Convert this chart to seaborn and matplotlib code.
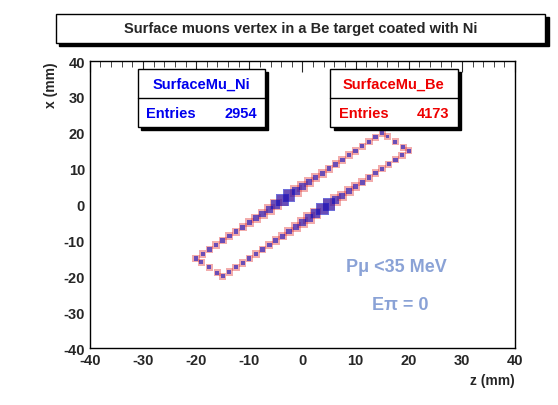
import numpy as np
import pandas as pd
import matplotlib
matplotlib.use("Agg")
import matplotlib.pyplot as plt
import seaborn as sns
from matplotlib.ticker import MultipleLocator
from matplotlib.patches import Rectangle

sns.set_style("white")
plt.rcParams['font.family'] = ['Liberation Sans', 'DejaVu Sans']
plt.rcParams['font.weight'] = 'bold'
plt.rcParams['axes.unicode_minus'] = False

# bin positions along the two long sides (z coordinate), slope-1 lines
z_line1 = [-20 + 1.25 * k for k in range(29)]   # x = z + 5
z_line2 = [-15 + 1.25 * k for k in range(29)]   # x = z - 5
ni_line1 = [5,5,6,6,7,8,9,10,12,14,18,25,45,90,90,30,20,14,12,10,9,8,7,6,6,5,5,5,5]
be_line1 = [8,8,8,9,10,11,12,14,16,20,26,35,40,35,30,40,36,28,22,18,15,13,11,10,9,8,8,8,8]
ni_line2 = [5,5,5,5,6,6,7,8,9,10,12,14,20,30,45,90,90,30,18,14,11,9,8,7,6,6,5,5,5]
be_line2 = [8,8,8,8,9,10,11,13,15,18,22,28,36,40,36,30,35,38,28,22,17,14,12,10,9,8,8,8,8]
# short ends
z_end = [-19, -17.5, -16, 16, 17.5, 19]
x_end = [-16, -17.5, -19, 19, 17.5, 16]
ni_end = [4, 4, 4, 4, 4, 4]
be_end = [6, 6, 6, 6, 6, 6]
entries_ni, entries_be = 2954, 4173

rows = []
for z, n, b in zip(z_line1, ni_line1, be_line1):
    rows += [("Ni", z, z + 5, n), ("Be", z, z + 5, b)]
for z, n, b in zip(z_line2, ni_line2, be_line2):
    rows += [("Ni", z, z - 5, n), ("Be", z, z - 5, b)]
for z, x, n, b in zip(z_end, x_end, ni_end, be_end):
    rows += [("Ni", z, x, n), ("Be", z, x, b)]
df = pd.DataFrame(rows, columns=["set", "z", "x", "count"])

fig = plt.figure(figsize=(5.58, 4.06), dpi=100)
ax = fig.add_axes([0.161, 0.140, 0.762, 0.707])

be = df[df.set == "Be"]
ni = df[df.set == "Ni"]
sns.scatterplot(data=be, x="z", y="x", size="count", sizes=(25, 70), marker="s",
                color="#e03030", alpha=0.4, linewidth=0, legend=False, ax=ax)
sns.scatterplot(data=ni, x="z", y="x", size="count", sizes=(8, 80), marker="s",
                color="#1010c0", alpha=0.6, linewidth=0, legend=False, ax=ax)

ax.set_xlim(-40, 40)
ax.set_ylim(-40, 40)
ax.xaxis.set_major_locator(MultipleLocator(10))
ax.yaxis.set_major_locator(MultipleLocator(10))
ax.xaxis.set_minor_locator(MultipleLocator(2))
ax.yaxis.set_minor_locator(MultipleLocator(2))
ax.tick_params(which='both', direction='in', top=True, right=False, labelsize=10.5)
ax.tick_params(which='major', length=8)
ax.tick_params(which='minor', length=4)
for lab in ax.get_xticklabels() + ax.get_yticklabels():
    lab.set_fontweight('bold')
for s in ax.spines.values():
    s.set_color('black'); s.set_linewidth(1)
ax.set_xlabel("z (mm)", fontsize=10, fontweight='bold', loc='right')
ax.set_ylabel("x (mm)", fontsize=10, fontweight='bold', loc='top')

def box(x0, y0, w, h, shadow=True):
    if shadow:
        fig.patches.append(Rectangle((x0 + 0.006, y0 - 0.008), w, h, transform=fig.transFigure,
                                     facecolor='black', edgecolor='black', zorder=5))
    fig.patches.append(Rectangle((x0, y0), w, h, transform=fig.transFigure,
                                 facecolor='white', edgecolor='black', lw=1, zorder=6))

# title
box(0.100, 0.892, 0.877, 0.072)
fig.text(0.538, 0.928, "Surface muons vertex in a Be target coated with Ni", ha='center',
         va='center', fontsize=10.5, fontweight='bold', zorder=7)

# stat boxes
for x0, name, ent, col in [(0.247, "SurfaceMu_Ni", entries_ni, "#0000ee"),
                           (0.592, "SurfaceMu_Be", entries_be, "#ee0000")]:
    box(x0, 0.685, 0.228, 0.143)
    fig.lines.append(plt.Line2D([x0, x0 + 0.228], [0.757, 0.757], transform=fig.transFigure,
                                color='black', lw=1, zorder=7))
    fig.text(x0 + 0.114, 0.792, name, ha='center', va='center', fontsize=10.5,
             color=col, fontweight='bold', zorder=7)
    fig.text(x0 + 0.015, 0.720, "Entries", ha='left', va='center', fontsize=10.5,
             color=col, fontweight='bold', zorder=7)
    fig.text(x0 + 0.213, 0.720, str(ent), ha='right', va='center', fontsize=10.5,
             color=col, fontweight='bold', zorder=7)

fig.text(0.71, 0.34, "P\u03bc <35 MeV", ha='center', va='center', fontsize=13,
         color='#8aa2d6', fontweight='bold')
fig.text(0.718, 0.248, "E\u03c0 = 0", ha='center', va='center', fontsize=13,
         color='#8aa2d6', fontweight='bold')

fig.savefig("out.png", dpi=100)
